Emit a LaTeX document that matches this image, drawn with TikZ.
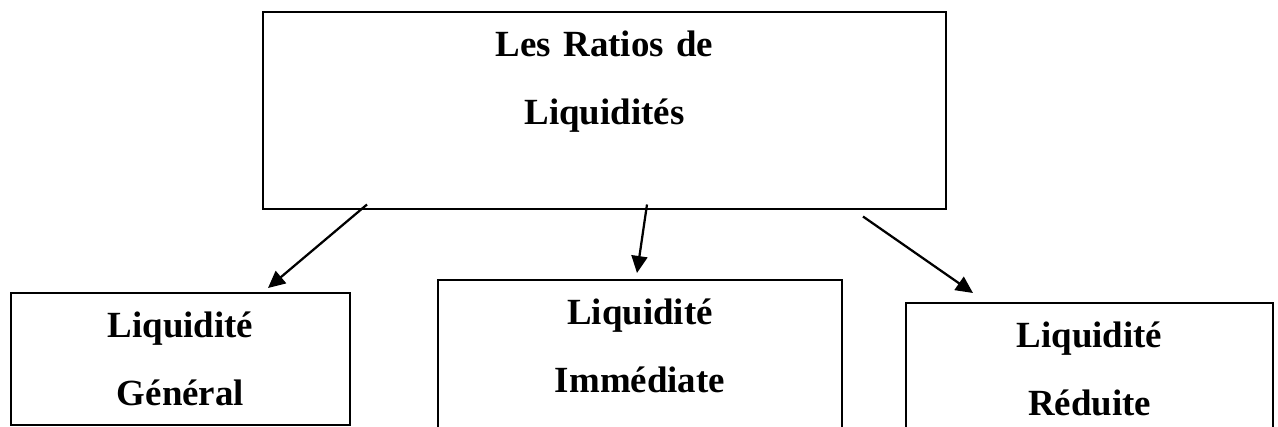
\documentclass[tikz,border=0pt]{standalone}
\usepackage{fontspec}
\setmainfont{Liberation Serif}
\usetikzlibrary{arrows.meta,positioning,calc}

\begin{document}
\begin{tikzpicture}[>={Triangle[length=0.34cm,width=0.32cm]},
 font=\bfseries\fontsize{21pt}{38.7pt}\selectfont,
 box/.style={draw,line width=0.04cm,align=center,anchor=north,inner xsep=0pt,inner ysep=0pt,outer sep=0pt,text height=0.89cm}]
\clip (0,0) rectangle (25.56,8.54);
\node[box,text width=13.66cm,text depth=3.06cm] (ratios) at (12.09,8.30) {Les Ratios de\\ Liquidités};
\node[box,text width=6.78cm,text depth=1.74cm] (general) at (3.61,2.68) {Liquidité\\ Général};
\node[box,text width=8.08cm,text depth=2.30cm] (immediate) at (12.80,2.94) {Liquidité\\ Immédiate};
\node[box,text width=7.34cm,text depth=1.86cm] (reduite) at (21.79,2.48) {Liquidité\\ Réduite};
\draw[->,line width=0.045cm] ([xshift=2.08cm,yshift=0.1cm]ratios.south west) -- ([xshift=-1.64cm,yshift=0.1cm]general.north east);
\draw[->,line width=0.045cm] ([xshift=0.85cm,yshift=0.1cm]ratios.south) -- ([xshift=-0.06cm,yshift=0.14cm]immediate.north);
\draw[->,line width=0.045cm] ([xshift=-1.66cm,yshift=-0.14cm]ratios.south east) -- ([xshift=1.34cm,yshift=0.2cm]reduite.north west);
\end{tikzpicture}
\end{document}
